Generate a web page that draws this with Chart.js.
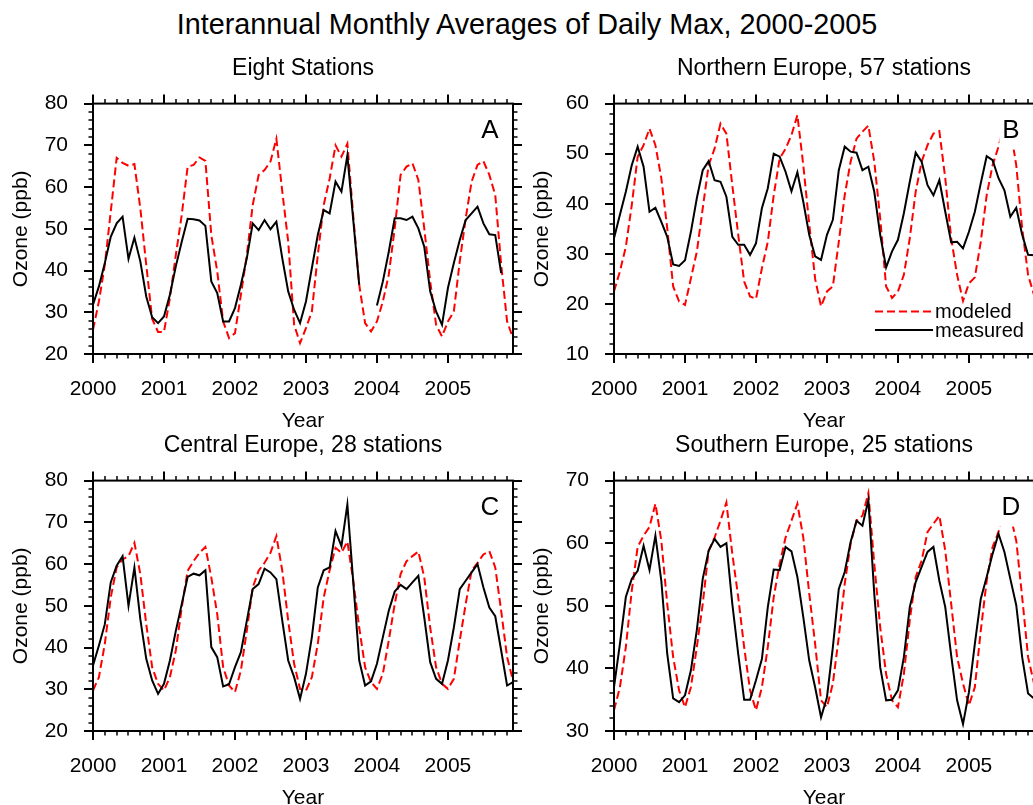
<!DOCTYPE html>
<html>
<head>
<meta charset="utf-8">
<script src="https://cdn.jsdelivr.net/npm/chart.js@4.4.1/dist/chart.umd.min.js"></script>
<style>
html, body { margin:0; padding:0; background:#fff; overflow:hidden; width:1033px; height:805px; }
#mainTitle { position:absolute; left:0; top:8px; width:1054px; text-align:center; font-family:"Liberation Sans", Arial, sans-serif; font-size:28.8px; color:#000; white-space:nowrap; }
canvas { position:absolute; }
</style>
</head>
<body>
<div id="mainTitle">Interannual Monthly Averages of Daily Max, 2000-2005</div>
<canvas id="cA" width="540" height="434" style="left:0px;top:0px"></canvas>
<canvas id="cB" width="540" height="434" style="left:521px;top:0px"></canvas>
<canvas id="cC" width="540" height="434" style="left:0px;top:377px"></canvas>
<canvas id="cD" width="540" height="434" style="left:521px;top:377px"></canvas>
<script>
// ---- data ----
const years = ['2000', '2001', '2002', '2003', '2004', '2005'];
const monthNames = ['01','02','03','04','05','06','07','08','09','10','11','12'];

const modeledA = [25.8, 32.6, 41.4, 54.1, 67.0, 65.8, 65.1, 65.5, 54.9, 41.4, 28.4, 25.3,
                  25.3, 33.4, 43.7, 53.3, 64.9, 65.3, 67.1, 66.3, 48.5, 39.8, 27.8, 23.8,
                  25.0, 34.2, 43.7, 55.7, 62.9, 64.1, 66.1, 71.6, 58.9, 46.9, 27.0, 22.6,
                  26.2, 30.2, 43.7, 55.7, 62.0, 70.0, 67.3, 70.4, 53.0, 36.6, 27.4, 25.4,
                  27.8, 32.6, 39.0, 50.1, 62.9, 64.9, 65.7, 61.7, 50.1, 37.4, 27.0, 24.2,
                  27.8, 30.2, 42.2, 52.5, 61.3, 65.3, 66.2, 62.9, 58.1, 41.4, 27.8, 23.8];
const measuredA = [31.8, 36.2, 41.8, 48.1, 51.3, 52.9, 42.8, 47.9, 42.2, 33.8, 28.8, 27.4,
                   29.0, 34.2, 41.0, 46.9, 52.4, 52.3, 52.0, 50.7, 37.4, 34.6, 27.8, 27.8,
                   31.0, 36.6, 42.9, 51.3, 49.7, 52.1, 49.9, 51.7, 42.9, 35.0, 30.6, 27.4,
                   32.6, 40.6, 48.5, 54.5, 53.7, 61.3, 58.9, 67.6, 52.0, 36.6, null, null,
                   31.6, 37.4, 44.5, 52.5, 52.5, 52.1, 52.9, 50.1, 45.7, 35.0, 30.2, 27.0,
                   35.8, 41.8, 47.3, 52.1, 53.7, 55.3, 51.3, 48.7, 48.5, 39.4, null, null];

const modeledB = [22.5, 26.5, 31.4, 39.7, 49.4, 51.7, 55.0, 51.7, 45.1, 35.1, 23.5, 20.5,
                  19.8, 25.1, 30.4, 39.1, 47.7, 51.0, 56.0, 54.0, 43.7, 33.8, 24.5, 21.5,
                  21.0, 27.1, 32.4, 41.7, 49.0, 51.0, 53.7, 57.7, 47.7, 36.0, 25.0, 19.5,
                  22.5, 23.5, 32.4, 41.7, 48.4, 53.0, 54.4, 55.6, 48.4, 37.1, 23.5, 21.2,
                  22.5, 25.8, 33.1, 42.4, 48.4, 51.7, 54.0, 54.5, 45.1, 33.1, 25.8, 20.6,
                  24.1, 25.3, 32.4, 41.7, 47.7, 51.4, 56.0, 55.0, 47.7, 35.1, 25.8, 21.8];
const measuredB = [33.1, 37.8, 42.4, 47.7, 51.4, 47.4, 38.4, 39.2, 36.4, 33.4, 27.9, 27.6,
                   28.7, 34.4, 41.1, 46.7, 48.5, 44.7, 44.4, 41.4, 33.4, 31.8, 31.8, 29.8,
                   32.1, 39.1, 43.1, 50.0, 49.4, 46.4, 42.5, 46.3, 40.4, 33.8, 29.5, 28.8,
                   33.8, 36.8, 46.7, 51.4, 50.4, 50.2, 46.7, 47.4, 42.4, 33.8, 27.3, 30.5,
                   32.8, 38.1, 44.4, 50.2, 48.4, 43.7, 41.7, 44.7, 38.4, 32.3, 32.4, 31.1,
                   34.4, 38.4, 44.1, 49.5, 48.7, 45.1, 42.7, 37.4, 39.2, 33.8, 29.8, 29.7];

const modeledC = [29.7, 32.9, 40.9, 52.0, 59.2, 61.1, 61.9, 65.1, 57.6, 45.6, 35.3, 31.3,
                  29.7, 32.9, 39.3, 49.6, 58.4, 60.7, 62.7, 64.1, 56.8, 48.0, 35.3, 30.9,
                  29.3, 34.5, 44.0, 54.4, 58.4, 60.3, 62.7, 66.7, 58.4, 46.4, 36.1, 30.1,
                  29.7, 32.9, 40.9, 52.0, 58.5, 63.9, 62.7, 65.4, 56.0, 44.8, 35.3, 31.7,
                  30.1, 33.7, 41.7, 50.4, 57.6, 60.7, 61.9, 63.0, 56.8, 44.8, 35.3, 31.3,
                  30.1, 32.5, 41.7, 50.4, 58.4, 60.3, 62.3, 63.1, 59.2, 48.8, 37.7, 32.1];
const measuredC = [35.7, 40.5, 45.6, 55.6, 59.6, 61.9, 50.0, 59.2, 46.8, 37.3, 32.1, 28.9,
                   31.3, 36.9, 44.0, 50.4, 56.9, 57.7, 57.3, 58.5, 40.1, 37.7, 30.7, 31.2,
                   35.3, 38.9, 46.4, 54.0, 55.2, 58.9, 58.0, 56.4, 46.4, 36.9, 32.9, 27.7,
                   33.7, 42.5, 54.4, 58.5, 59.2, 67.9, 64.3, 74.3, 55.6, 36.9, 30.9, 31.9,
                   36.1, 42.5, 48.8, 53.4, 55.0, 54.0, 55.6, 57.2, 47.2, 36.5, 32.5, 31.3,
                   36.9, 44.8, 54.0, 56.0, 58.0, 60.0, 54.4, 49.6, 47.5, 39.3, 30.9, 31.7];

const modeledD = [33.3, 37.0, 43.4, 52.4, 59.4, 61.2, 62.6, 66.3, 60.4, 50.3, 41.8, 36.5,
                  33.8, 37.0, 43.4, 50.3, 58.8, 60.9, 63.6, 66.5, 58.3, 51.4, 43.4, 36.5,
                  33.3, 37.0, 43.4, 51.4, 56.7, 60.9, 63.6, 66.3, 60.9, 52.0, 43.9, 34.9,
                  33.8, 37.6, 45.0, 53.5, 59.9, 63.6, 64.4, 68.0, 56.7, 46.6, 39.1, 34.9,
                  33.8, 39.1, 47.7, 54.6, 57.2, 61.8, 63.1, 64.4, 58.8, 50.3, 41.8, 37.6,
                  34.1, 37.0, 46.0, 54.0, 59.4, 61.8, 65.5, 64.5, 60.4, 51.4, 41.8, 37.6];
const measuredD = [37.0, 43.9, 51.4, 54.3, 55.6, 59.6, 55.7, 61.2, 54.0, 42.3, 35.2, 34.6,
                   35.7, 39.7, 46.1, 54.3, 58.8, 60.7, 59.4, 60.0, 50.3, 42.3, 35.0, 35.0,
                   38.1, 41.5, 49.8, 55.8, 55.7, 59.4, 58.7, 54.6, 48.2, 41.3, 37.0, 32.2,
                   35.4, 43.4, 52.7, 55.4, 60.2, 63.6, 62.8, 66.9, 51.9, 40.2, 34.9, 35.0,
                   36.5, 41.8, 49.8, 53.8, 56.2, 58.6, 59.4, 54.0, 49.8, 42.1, 34.9, 31.1,
                   36.2, 43.9, 51.1, 54.6, 58.3, 61.5, 58.6, 54.3, 50.1, 41.8, 36.0, 35.2];

// month category labels built from the year list
const monthLabels = [];
years.forEach(y => monthNames.forEach(m => monthLabels.push(y + '-' + m)));

const FONT = '"Liberation Sans", Arial, Helvetica, sans-serif';
Chart.defaults.font.family = FONT;
Chart.defaults.color = '#000';

// frame, outward tick marks, panel letter and legend
const framePlugin = {
  id: 'frame',
  afterDatasetsDraw(chart, args, opts) {
    const {ctx, chartArea: a} = chart;
    ctx.save();
    // panel letter with white box
    ctx.font = '26px ' + FONT;
    const w = ctx.measureText(opts.letter).width;
    const cx = a.right - 23, cy = a.top + 26;
    ctx.fillStyle = '#fff';
    ctx.fillRect(cx - w / 2 - 3, cy - 14, w + 6, 34);
    ctx.fillStyle = '#000';
    ctx.textAlign = 'center';
    ctx.textBaseline = 'middle';
    ctx.fillText(opts.letter, cx, cy + 1);
    if (opts.legend) {
      const items = chart.data.datasets.slice().reverse();
      const ys = [a.bottom - 42.5, a.bottom - 24];
      items.forEach((ds, k) => {
        ctx.beginPath();
        ctx.lineWidth = 2;
        ctx.strokeStyle = ds.borderColor;
        ctx.setLineDash(ds.borderDash || []);
        ctx.moveTo(a.right - 159, ys[k]);
        ctx.lineTo(a.right - 101, ys[k]);
        ctx.stroke();
        ctx.setLineDash([]);
        ctx.font = '20px ' + FONT;
        ctx.fillStyle = '#000';
        ctx.textAlign = 'left';
        ctx.textBaseline = 'middle';
        ctx.fillText(ds.label, a.right - 99, ys[k] + 1);
      });
    }
    ctx.restore();
  },
  afterDraw(chart) {
    const {ctx, chartArea: a, scales: {x, y}} = chart;
    ctx.save();
    ctx.strokeStyle = '#000';
    // y ticks (left and right, outward)
    for (let v = y.min; v <= y.max + 1e-9; v += 2) {
      const major = Math.abs(v % 10) < 1e-9;
      const len = major ? 9 : 4.5;
      const py = Math.round(y.getPixelForValue(v));
      ctx.lineWidth = major ? 2 : 1.5;
      ctx.beginPath();
      ctx.moveTo(a.left - len, py); ctx.lineTo(a.left, py);
      ctx.moveTo(a.right, py); ctx.lineTo(a.right + len, py);
      ctx.stroke();
    }
    // x ticks (bottom and top, outward)
    for (let i = 0; i < chart.data.labels.length; i += 2) {
      const major = i % 12 === 0;
      const len = major ? 9 : 4.5;
      const px = Math.round(x.getPixelForValue(i));
      ctx.lineWidth = major ? 2 : 1.5;
      ctx.beginPath();
      ctx.moveTo(px, a.bottom); ctx.lineTo(px, a.bottom + len);
      ctx.moveTo(px, a.top - len); ctx.lineTo(px, a.top);
      ctx.stroke();
    }
    // frame
    ctx.lineWidth = 2;
    ctx.strokeRect(a.left, a.top, a.right - a.left, a.bottom - a.top);
    ctx.restore();
  }
};

function makePanel(id, subtitle, modeled, measured, yMin, yMax, letter, legend) {
  return new Chart(document.getElementById(id), {
    type: 'line',
    data: {
      labels: monthLabels,
      datasets: [
        {label: 'measured', data: measured, borderColor: '#000000', borderWidth: 2,
         pointRadius: 0, tension: 0, fill: false, spanGaps: false},
        {label: 'modeled', data: modeled, borderColor: '#ff0000', borderWidth: 2,
         borderDash: [8, 4], pointRadius: 0, tension: 0, fill: false}
      ]
    },
    options: {
      responsive: false,
      animation: false,
      events: [],
      layout: {padding: {left: 0, right: 27, top: 0, bottom: 0}},
      plugins: {
        legend: {display: false},
        tooltip: {enabled: false},
        title: {display: true, text: subtitle, fullSize: false, color: '#000',
                font: {size: 23, weight: 'normal', lineHeight: 1.2},
                padding: {top: 55, bottom: 21}},
        frame: {letter: letter, legend: legend}
      },
      scales: {
        x: {
          type: 'category', offset: false,
          grid: {display: false, drawTicks: false}, border: {display: false},
          ticks: {autoSkip: false, maxRotation: 0, minRotation: 0, padding: 23,
                  font: {size: 21}, color: '#000',
                  callback: (v, i) => (i % 12 === 0 ? years[i / 12] : '')},
          title: {display: true, text: 'Year', color: '#000',
                  font: {size: 21, lineHeight: 1.2}, padding: {top: 0, bottom: 0}},
          afterFit: s => { s.height = 80; }
        },
        y: {
          min: yMin, max: yMax,
          grid: {display: false, drawTicks: false}, border: {display: false},
          ticks: {stepSize: 10, padding: 25, font: {size: 21}, color: '#000'},
          title: {display: true, text: 'Ozone (ppb)', color: '#000',
                  font: {size: 21, lineHeight: 1.2}, padding: {top: 9, bottom: 0}},
          afterFit: s => { s.width = 93; }
        }
      }
    },
    plugins: [framePlugin]
  });
}

makePanel('cA', 'Eight Stations', modeledA, measuredA, 20, 80, 'A', false);
makePanel('cB', 'Northern Europe, 57 stations', modeledB, measuredB, 10, 60, 'B', true);
makePanel('cC', 'Central Europe, 28 stations', modeledC, measuredC, 20, 80, 'C', false);
makePanel('cD', 'Southern Europe, 25 stations', modeledD, measuredD, 30, 70, 'D', false);
</script>
</body>
</html>
